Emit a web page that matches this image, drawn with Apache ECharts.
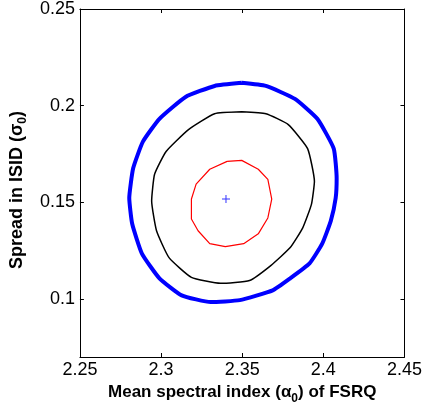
<!DOCTYPE html>
<html>
<head>
<meta charset="utf-8">
<script src="https://cdn.jsdelivr.net/npm/echarts@6/dist/echarts.min.js"></script>
<style>html,body{margin:0;padding:0;background:#fff}#c{width:425px;height:411px}</style>
</head>
<body>
<div id="c"></div>
<script>
// Tick values
const xTicks = [2.25, 2.3, 2.35, 2.4, 2.45];
const yTicks = [0.1, 0.15, 0.2, 0.25];

// Outer contour (blue, thick)
const blueContour = [
  [2.3497,0.2118],[2.3646,0.2102],[2.3825,0.2035],[2.3963,0.1932],[2.4064,0.1778],
  [2.4082,0.1625],[2.4076,0.1522],[2.4046,0.1404],[2.3993,0.1286],[2.3915,0.1184],
  [2.3796,0.1107],[2.3688,0.1045],[2.3485,0.0994],[2.3306,0.0984],[2.3127,0.1019],
  [2.2990,0.1107],[2.2882,0.1235],[2.2822,0.1389],[2.2804,0.1522],[2.2828,0.1676],
  [2.2888,0.1814],[2.2990,0.1932],[2.3151,0.2045],[2.3330,0.2102],[2.3497,0.2118]
];
// Middle contour (black)
const blackContour = [
  [2.3497,0.1968],[2.3646,0.1958],[2.3784,0.1902],[2.3903,0.1778],[2.3945,0.1609],
  [2.3927,0.1491],[2.3873,0.1368],[2.3796,0.1266],[2.3676,0.1173],[2.3545,0.1096],
  [2.3366,0.1081],[2.3187,0.1112],[2.3049,0.1214],[2.2972,0.1353],[2.2942,0.1507],
  [2.2960,0.1645],[2.3031,0.1763],[2.3169,0.1876],[2.3330,0.1958],[2.3497,0.1968]
];
// Inner contour (red)
const redContour = [
  [2.3407,0.1712],[2.3497,0.1717],[2.3599,0.1671],[2.3658,0.1619],[2.3682,0.1517],
  [2.3658,0.1419],[2.3599,0.1337],[2.3509,0.1286],[2.3396,0.1271],[2.3300,0.1286],
  [2.3228,0.1353],[2.3187,0.1414],[2.3187,0.1517],[2.3216,0.1594],[2.3300,0.1671],
  [2.3407,0.1712]
];
// Best fit point
const bestFit = [[2.340, 0.1517]];

const chart = echarts.init(document.getElementById('c'), null, {renderer: 'canvas'});
const tickFont = {fontFamily: '"Liberation Sans Narrow", "Liberation Sans", Arial, sans-serif', fontSize: 18, color: '#000'};
const mkRich = (size) => ({
  b: {fontFamily: '"Liberation Sans", Arial, sans-serif', fontWeight: 'bold', fontSize: size, color: '#000', lineHeight: 24, verticalAlign: 'middle'},
  s: {fontFamily: '"Liberation Sans", Arial, sans-serif', fontWeight: 'bold', fontSize: 12, color: '#000', lineHeight: 12, verticalAlign: 'bottom'}
});
const axisLine = {show: true, onZero: false, lineStyle: {color: '#000', width: 1}};
const tick = (vals) => ({show: true, inside: true, length: 4, customValues: vals, lineStyle: {color: '#000', width: 1}});

chart.setOption({
  animation: false,
  backgroundColor: '#fff',
  grid: {left: 73, right: 17, top: 6, bottom: 54, containLabel: false},
  xAxis: [
    {
      type: 'value', position: 'bottom', min: 2.25, max: 2.45,
      axisLine: axisLine, axisTick: tick(xTicks), splitLine: {show: false},
      axisLabel: Object.assign({customValues: xTicks, margin: 4, formatter: v => String(+v.toFixed(2))}, tickFont),
      name: '{b|Mean spectral index (α}{s|0}{b|) of FSRQ}',
      nameLocation: 'middle', nameGap: 9,
      nameTextStyle: {rich: mkRich(17)}
    },
    {
      type: 'value', position: 'top', min: 2.25, max: 2.45,
      axisLine: axisLine, axisTick: tick(xTicks), axisLabel: {show: false}, splitLine: {show: false}
    }
  ],
  yAxis: [
    {
      type: 'value', position: 'left', min: 0.07, max: 0.25,
      axisLine: axisLine, axisTick: tick(yTicks), splitLine: {show: false},
      axisLabel: Object.assign({customValues: yTicks, margin: 5, formatter: v => String(+v.toFixed(2))}, tickFont),
      name: '{b|Spread in ISID (σ}{s|0}{b|)}',
      nameLocation: 'middle', nameGap: 44,
      nameTextStyle: {rich: mkRich(18), padding: [0, 14, 0, 0]}
    },
    {
      type: 'value', position: 'right', min: 0.07, max: 0.25,
      axisLine: axisLine, axisTick: tick(yTicks), axisLabel: {show: false}, splitLine: {show: false}
    }
  ],
  series: [
    {type: 'line', data: blueContour, symbol: 'none', smooth: 0.15, lineStyle: {color: '#0000ff', width: 4}, z: 3},
    {type: 'line', data: blackContour, symbol: 'none', smooth: 0.15, lineStyle: {color: '#000000', width: 1.5}, z: 3},
    {type: 'line', data: redContour, symbol: 'none', smooth: false, lineStyle: {color: '#ff0000', width: 1.2}, z: 3},
    {type: 'scatter', data: bestFit, symbol: 'path://M3.5,0H4.5V3.5H8V4.5H4.5V8H3.5V4.5H0V3.5H3.5Z', symbolSize: 8, itemStyle: {color: '#0000ff'}, z: 4}
  ]
});
</script>
</body>
</html>
